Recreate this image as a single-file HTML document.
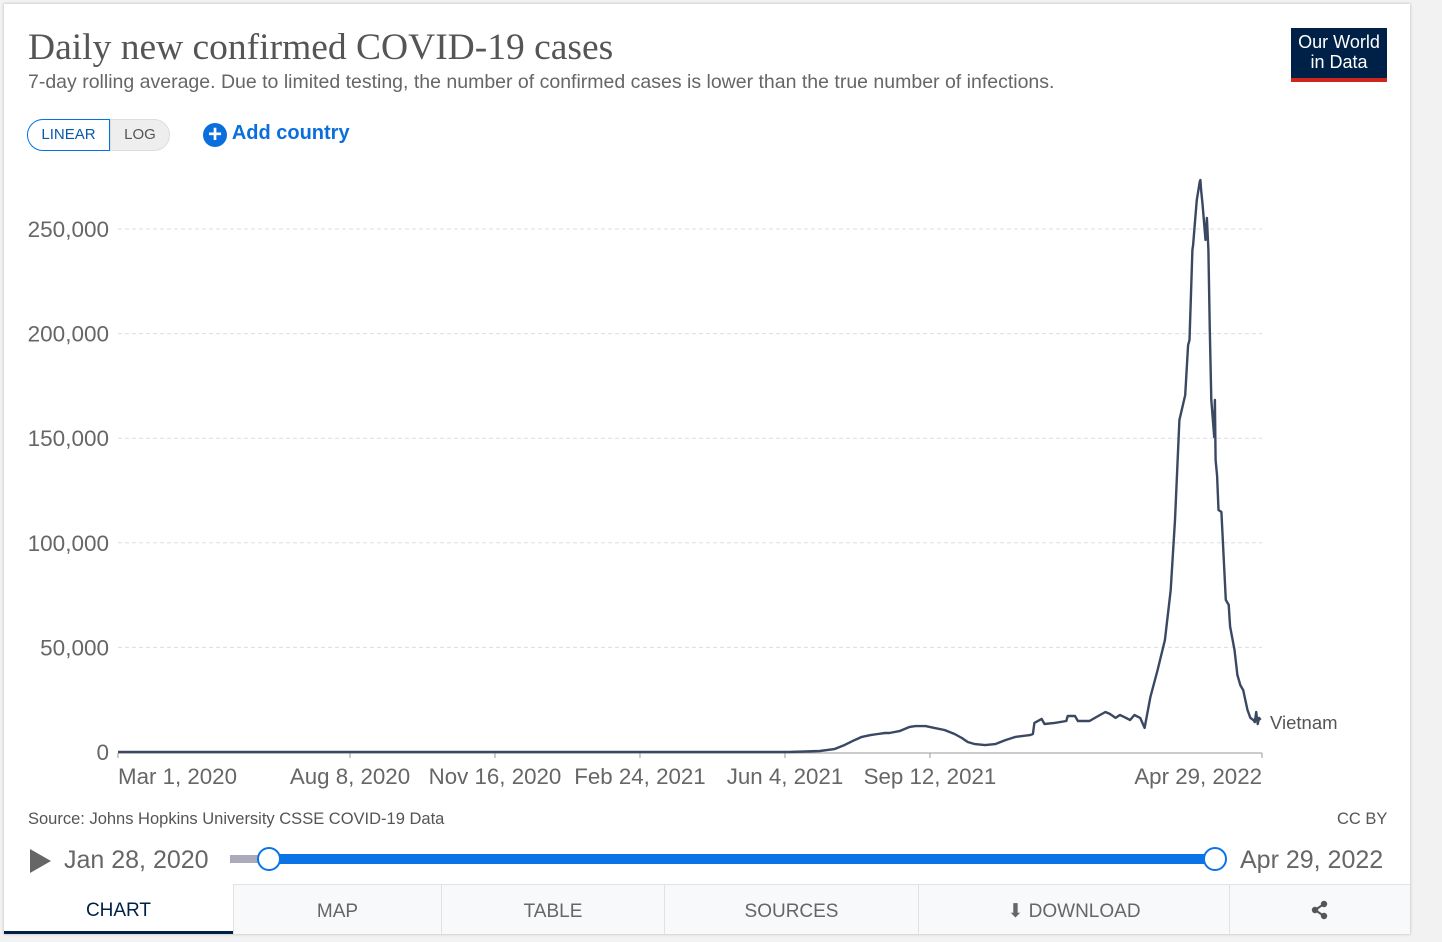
<!DOCTYPE html>
<html><head><meta charset="utf-8"><style>
body{margin:0;width:1442px;height:942px;background:#f2f2f2;font-family:"Liberation Sans",sans-serif;position:relative;overflow:hidden}
#card{position:absolute;left:4px;top:4px;width:1406px;height:930px;background:#fff;box-shadow:0 0 3px rgba(0,0,0,.25)}
.a{position:absolute;white-space:nowrap}
.tab{position:absolute;top:880px;height:50px;background:#f8f9fa;border-left:1px solid #e2e2e2;border-top:1px solid #e2e2e2;color:#666;font-size:19px;text-align:center;line-height:54px;box-sizing:border-box}
</style></head><body>
<div id="card">
<div class="a" style="left:24px;top:22px;font-family:'Liberation Serif',serif;font-size:37.5px;color:#555">Daily new confirmed COVID-19 cases</div>
<div class="a" style="left:24px;top:67px;font-size:19.5px;color:#666">7-day rolling average. Due to limited testing, the number of confirmed cases is lower than the true number of infections.</div>
<div class="a" style="left:1287px;top:24px;width:96px;height:54px;background:#002147;border-bottom:4px solid #ce261e;box-sizing:border-box;color:#fff;font-size:18px;line-height:20px;text-align:center;padding-top:4px">Our World<br>in Data</div>
<div class="a" style="left:23px;top:115px;width:83px;height:32px;border:1px solid #0073e6;border-radius:16px 0 0 16px;box-sizing:border-box;color:#0a5aa8;font-size:15px;line-height:30px;text-align:center">LINEAR</div>
<div class="a" style="left:106px;top:115px;width:60px;height:32px;border:1px solid #ddd;background:#eee;border-radius:0 16px 16px 0;box-sizing:border-box;color:#555;font-size:15px;line-height:30px;text-align:center">LOG</div>
<div class="a" style="left:199px;top:118px;color:#0a6fdc;font-size:20px;font-weight:bold"><span style="display:inline-block;width:24px;height:24px;border-radius:12px;background:#0a6fdc;color:#fff;text-align:center;line-height:24px;font-size:24px;vertical-align:-3px">+</span> Add country</div>
<div class="a" style="left:24px;top:806px;font-size:16.5px;color:#555">Source: Johns Hopkins University CSSE COVID-19 Data</div>
<div class="a" style="left:1333px;top:806px;font-size:16.5px;color:#555">CC BY</div>
<div class="a" style="left:26px;top:845px;width:0;height:0;border-left:21px solid #666;border-top:12px solid transparent;border-bottom:12px solid transparent"></div>
<div class="a" style="left:60px;top:842px;font-size:25px;color:#666">Jan 28, 2020</div>
<div class="a" style="left:1236px;top:842px;font-size:25px;color:#666">Apr 29, 2022</div>
<div class="a" style="left:226px;top:851px;width:40px;height:8px;background:#aab"></div>
<div class="a" style="left:264px;top:850px;width:948px;height:10px;background:#0a74e6"></div>
<div class="a" style="left:253px;top:843px;width:20px;height:20px;border:2px solid #0a74e6;border-radius:50%;background:#fff"></div>
<div class="a" style="left:1199px;top:843px;width:20px;height:20px;border:2px solid #0a74e6;border-radius:50%;background:#fff"></div>
<div class="tab" style="left:0;width:229px;background:#fff;border:none;color:#002147;border-bottom:3px solid #002147">CHART</div>
<div class="tab" style="left:229px;width:208px">MAP</div>
<div class="tab" style="left:437px;width:223px">TABLE</div>
<div class="tab" style="left:660px;width:254px">SOURCES</div>
<div class="tab" style="left:914px;width:311px">⬇ DOWNLOAD</div>
<div class="tab" style="left:1225px;width:181px"><svg width="20" height="20" viewBox="0 0 20 20" style="vertical-align:-3px"><line x1="14" y1="4" x2="5" y2="10" stroke="#555" stroke-width="2"/><line x1="14" y1="16" x2="5" y2="10" stroke="#555" stroke-width="2"/><circle cx="14" cy="4" r="3.2" fill="#555"/><circle cx="14" cy="16" r="3.2" fill="#555"/><circle cx="5" cy="10" r="3.2" fill="#555"/></svg></div>
</div>
<svg id="chart" width="1442" height="942" style="position:absolute;left:0;top:0"></svg>
<script>
const yTicks=[0,50000,100000,150000,200000,250000];
const yTickLabels=["0","50,000","100,000","150,000","200,000","250,000"];
const xTickDays=[0,160,260,360,460,560,789];
const xTickLabels=["Mar 1, 2020","Aug 8, 2020","Nov 16, 2020","Feb 24, 2021","Jun 4, 2021","Sep 12, 2021","Apr 29, 2022"];
const days=[0,463,484,494,501,508,513,519,524,529,532,539,546,550,557,563,570,577,582,586,591,598,605,612,619,629,631,632,637,639,646,654,655,660,662,670,676,681,684,688,691,694,698,701,705,708,712,717,722,726,729,732,736,738,739,741,741.5,743,744,746,746.5,747,748,750,751,752,753,754,756,756.5,757,758,759,761,763,764,766,767,770,772,774,776,779,781,783,784,785,786,787,788,789];
const cases=[0,0,500,1400,3300,5700,7200,8100,8600,9100,9100,10000,12000,12400,12400,11500,10500,8600,6700,4800,3800,3300,3800,5700,7200,8100,8600,13900,15800,13400,13900,14800,17200,17200,14800,14800,17200,19100,18200,16300,17700,16700,15300,17700,16300,11500,26300,39200,53500,77400,110900,158700,170600,194500,196900,239900,242300,255300,263900,272500,273400,268700,261500,244800,255300,239900,201700,168300,150600,168300,139600,132000,115700,114700,87000,72700,70300,60000,48800,36800,32000,29600,20100,16300,15300,14300,19100,13400,16300,15300];
const NS="http://www.w3.org/2000/svg",svg=document.getElementById('chart');
const X0=118,X1=1262,Y0=752,Y1=229,DMAX=789,VMAX=250000;
const xs=d=>X0+(X1-X0)*d/DMAX, ys=v=>Y0-(Y0-Y1)*v/VMAX;
function mk(t,a){const e=document.createElementNS(NS,t);for(const k in a)e.setAttribute(k,a[k]);svg.appendChild(e);return e;}
yTicks.forEach((v,i)=>{
 if(i>0){const g=mk('line',{x1:X0,x2:X1,y1:ys(v),y2:ys(v),stroke:'#ddd','stroke-dasharray':'4,3'});
 
 }
 const t=mk('text',{x:109,y:ys(v)+8,'text-anchor':'end','font-size':22.5,fill:'#666','font-family':'Liberation Sans'});
 t.textContent=yTickLabels[i];
 
 
});
const ax=mk('line',{x1:X0,x2:X1,y1:Y0+1,y2:Y0+1,stroke:'#999'});


xTickDays.forEach((d,i)=>{
 const tk=mk('line',{x1:xs(d),x2:xs(d),y1:Y0+1,y2:Y0+6,stroke:'#999'});
 
 
 const anc=i==0?'start':(i==xTickDays.length-1?'end':'middle');
 const t=mk('text',{x:xs(d),y:784,'text-anchor':anc,'font-size':22.3,fill:'#666','font-family':'Liberation Sans'});
 t.textContent=xTickLabels[i];
 
 
});
const p=mk('path',{d:days.map((d,i)=>(i?'L':'M')+xs(d).toFixed(1)+','+ys(cases[i]).toFixed(1)).join(''),fill:'none',stroke:'#3a4862','stroke-width':2.4,'stroke-linejoin':'round'});


const lb=mk('text',{x:1270,y:729,'font-size':18.5,fill:'#555','font-family':'Liberation Sans'});
lb.textContent='Vietnam';


</script>
</body></html>
